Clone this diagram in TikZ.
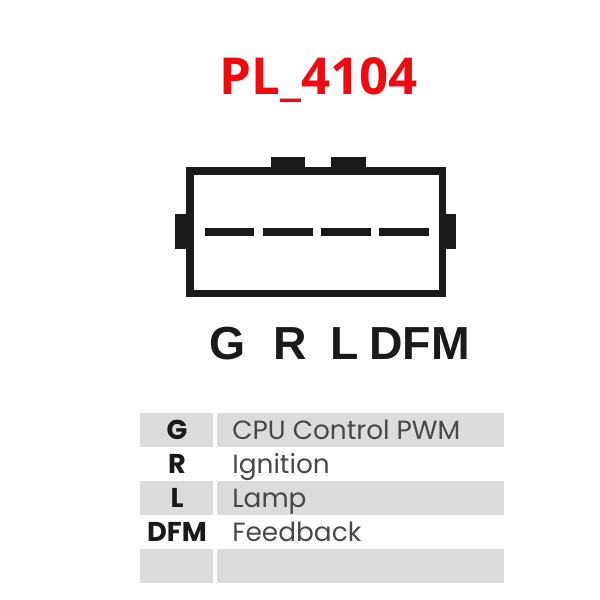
\documentclass[tikz,border=0pt]{standalone}
\usepackage{fontspec}
\setmainfont{Liberation Sans}
\newfontfamily\titlefont{Open Sans}
\newfontfamily\tablefont{Poppins}
\definecolor{titlered}{HTML}{EE0A0F}
\definecolor{rowgray}{HTML}{DCDCDC}
\definecolor{inkblack}{HTML}{1A1A1A}

\begin{document}
\begin{tikzpicture}[x=0.02cm,y=-0.02cm,
    pinlabel/.style={anchor=base,font=\fontsize{26.4}{26.4}\selectfont\bfseries,text=inkblack,inner sep=0pt},
    tabcell/.style={fill=rowgray,inner sep=0pt,minimum height=0.68cm},
    keycell/.style={tabcell,minimum width=1.46cm},
    wirecell/.style={tabcell,minimum width=5.74cm},
    keytext/.style={anchor=base,font=\tablefont\fontsize{15.5}{15.5}\selectfont\bfseries,text=inkblack,inner sep=0pt},
    wiretext/.style={anchor=base west,font=\tablefont\fontsize{15}{15}\selectfont,text=inkblack!80,inner sep=0pt},
    tab/.style={fill=inkblack,draw=none},
    pin/.style={fill=inkblack,draw=none}]
    \useasboundingbox (0,0) rectangle (600,600);
    \node[anchor=base,inner sep=0pt,text=titlered,font=\titlefont\fontsize{29}{29}\selectfont\bfseries] (title) at (319,94) {PL\_4104};
    \fill[tab] (271,157) rectangle (305,170);
    \fill[tab] (331,157) rectangle (366,170);
    \fill[tab] (175,214) rectangle (188,249);
    \fill[tab] (444,214) rectangle (456,249);
    \draw[draw=inkblack,line width=4.3pt] (189.8,171) rectangle (442.5,293.5);
    \fill[pin] (205,228) rectangle (254,236);
    \fill[pin] (263,228) rectangle (313,236);
    \fill[pin] (321,228) rectangle (371,236);
    \fill[pin] (379,228) rectangle (429,236);
    \node[pinlabel] (pinG) at (228,359) {G};
    \node[pinlabel] (pinR) at (290,359) {R};
    \node[pinlabel] (pinL) at (345,359) {L};
    \node[pinlabel] (pinDFM) at (419.5,359) {DFM};
    \node[keycell] (keyG) at (176.5,430) {};
    \node[wirecell] (wireG) at (360.5,430) {};
    \node[keycell] (keyL) at (176.5,498) {};
    \node[wirecell] (wireL) at (360.5,498) {};
    \node[keycell] (keyE) at (176.5,566) {};
    \node[wirecell] (wireE) at (360.5,566) {};
    \node[keytext] (textG) at (177,439) {G};
    \node[keytext] (textR) at (177,473) {R};
    \node[keytext] (textL) at (177,507) {L};
    \node[keytext] (textDFM) at (177,541) {DFM};
    \node[wiretext] (nameG) at (232,439) {CPU Control PWM};
    \node[wiretext] (nameR) at (232,473) {Ignition};
    \node[wiretext] (nameL) at (232,507) {Lamp};
    \node[wiretext] (nameDFM) at (232,541) {Feedback};
\end{tikzpicture}
\end{document}
